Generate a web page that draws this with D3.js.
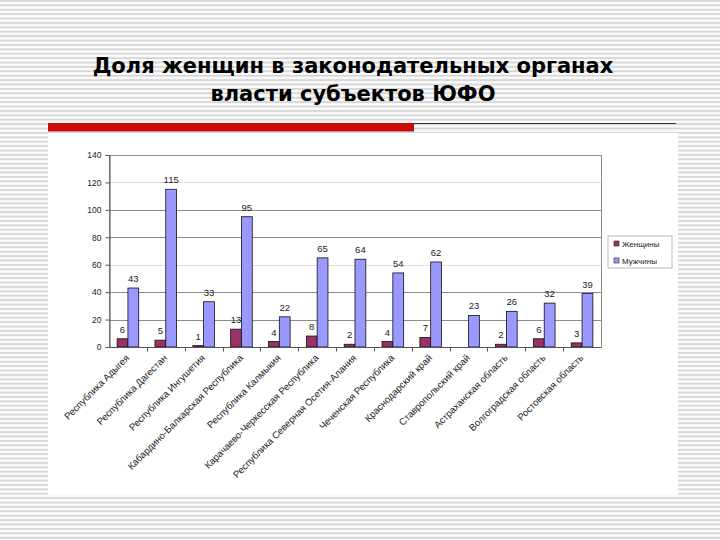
<!DOCTYPE html>
<html>
<head>
<meta charset="utf-8">
<script src="https://cdn.jsdelivr.net/npm/d3@7"></script>
<style>
  body { margin: 0; background: #fff; }
  svg { display: block; }
</style>
</head>
<body>
<script>
// data
const regions = ["Республика Адыгея", "Республика Дагестан", "Республика Ингушетия",
  "Кабардино-Балкарская Республика", "Республика Калмыкия", "Карачаево-Черкесская Республика",
  "Республика Северная Осетия-Алания", "Чеченская Республика", "Краснодарский край",
  "Ставропольский край", "Астраханская область", "Волгоградская область", "Ростовская область"]
const women = [6, 5, 1, 13, 4, 8, 2, 4, 7, null, 2, 6, 3]
const men = [43, 115, 33, 95, 22, 65, 64, 54, 62, 23, 26, 32, 39]
const seriesNames = ["Женщины", "Мужчины"]
const yTicks = [0, 20, 40, 60, 80, 100, 120, 140]

const W = 720, H = 540
const svg = d3.select("body").append("svg").attr("width", W).attr("height", H)

// striped slide background
let defs = svg.append("defs")
let pat = defs.append("pattern").attr("id", "stripes")
  .attr("patternUnits", "userSpaceOnUse").attr("width", 8).attr("height", 4.4)
pat.append("rect").attr("width", 8).attr("height", 4.4).attr("fill", "#fafafa")
pat.append("rect").attr("y", 0).attr("width", 8).attr("height", 1.8).attr("fill", "#d6d6d6")
svg.append("rect").attr("width", W).attr("height", H).attr("fill", "url(#stripes)")

// title
let title = svg.append("text")
  .attr("x", 353).attr("text-anchor", "middle")
  .style("font-family", "DejaVu Sans, Verdana, sans-serif")
  .style("font-weight", "bold").style("font-size", "21px").attr("fill", "#000")
title.append("tspan").attr("x", 353).attr("y", 73).text("Доля женщин в законодательных органах")
title.append("tspan").attr("x", 353).attr("y", 101).text("власти субъектов ЮФО")

// red rule + thin line
svg.append("rect").attr("x", 48).attr("y", 123).attr("width", 366).attr("height", 8.5).attr("fill", "#cc0a0a")
svg.append("line").attr("x1", 414).attr("x2", 676).attr("y1", 123.5).attr("y2", 123.5)
  .attr("stroke", "#333").attr("stroke-width", 1)

// chart picture area
svg.append("rect").attr("x", 48).attr("y", 133).attr("width", 630).attr("height", 362).attr("fill", "#fff")

const plot = { left: 109, right: 601, top: 155, bottom: 347 }

const x0 = d3.scaleBand().domain(regions).range([plot.left, plot.right]).paddingInner(0).paddingOuter(0)
const x1 = d3.scaleBand().domain(seriesNames).range([0, x0.bandwidth()]).paddingInner(0).paddingOuter(0.75)
const y = d3.scaleLinear().domain([0, 140]).range([plot.bottom, plot.top])
const colors = { "Женщины": "#993366", "Мужчины": "#9999ff" }

const chart = svg.append("g").style("font-family", "Liberation Sans, Arial, sans-serif")

// gridlines
chart.append("g").selectAll("line").data(yTicks.filter(d => d > 0)).join("line")
  .attr("x1", plot.left).attr("x2", plot.right)
  .attr("y1", d => Math.round(y(d)) + 0.5).attr("y2", d => Math.round(y(d)) + 0.5)
  .attr("stroke", d => (d == 60 || d == 120) ? "#dedede" : "#8c8c8c").attr("stroke-width", 1)

// frame
chart.append("rect").attr("x", plot.left + 0.5).attr("y", plot.top + 0.5)
  .attr("width", plot.right - plot.left).attr("height", plot.bottom - plot.top)
  .attr("fill", "none").attr("stroke", "#8c8c8c")

// y axis
let yAxis = chart.append("g").attr("transform", `translate(${plot.left + 0.5},0)`)
  .call(d3.axisLeft(y).tickValues(yTicks).tickSize(4).tickPadding(4))
yAxis.select(".domain").attr("stroke", "#555")
yAxis.selectAll(".tick line").attr("stroke", "#555")
yAxis.selectAll("text").style("font-size", "8.5px").attr("fill", "#222")

// bars
let rows = regions.map((r, i) => ({ region: r, vals: [{ s: seriesNames[0], v: women[i] }, { s: seriesNames[1], v: men[i] }] }))
let groups = chart.append("g").selectAll("g").data(rows).join("g")
  .attr("transform", d => `translate(${x0(d.region)},0)`)

groups.selectAll("rect").data(d => d.vals.filter(e => e.v != null)).join("rect")
  .attr("x", d => x1(d.s)).attr("width", x1.bandwidth())
  .attr("y", d => y(d.v)).attr("height", d => y(0) - y(d.v))
  .attr("fill", d => colors[d.s]).attr("stroke", "#111").attr("stroke-width", 0.8)

groups.selectAll("text").data(d => d.vals.filter(e => e.v != null)).join("text")
  .attr("x", d => x1(d.s) + x1.bandwidth() / 2).attr("y", d => y(d.v) - 6)
  .attr("text-anchor", "middle").style("font-size", "9.5px").attr("fill", "#222")
  .text(d => d.v)

// x axis
let xAxis = chart.append("g").attr("transform", `translate(0,${plot.bottom + 0.5})`)
xAxis.append("line").attr("x1", plot.left).attr("x2", plot.right).attr("stroke", "#555")
xAxis.selectAll("line.tk").data(regions.slice(1)).join("line").attr("class", "tk")
  .attr("x1", d => Math.round(x0(d)) + 0.5).attr("x2", d => Math.round(x0(d)) + 0.5)
  .attr("y1", 0).attr("y2", 4).attr("stroke", "#555")
xAxis.selectAll("text").data(regions).join("text")
  .attr("transform", d => `translate(${x0(d) + x0.bandwidth() / 2 + 2},${11}) rotate(-45)`)
  .attr("text-anchor", "end").style("font-size", "9.6px").attr("fill", "#222")
  .text(d => d)

// legend
let lg = chart.append("g").attr("transform", "translate(608,236)")
lg.append("rect").attr("width", 64).attr("height", 32).attr("fill", "#fff").attr("stroke", "#aaa").attr("stroke-width", 0.8)
seriesNames.forEach((s, i) => {
  lg.append("rect").attr("x", 6).attr("y", 5 + i * 17).attr("width", 5).attr("height", 5)
    .attr("fill", colors[s]).attr("stroke", "#222").attr("stroke-width", 0.6)
  lg.append("text").attr("x", 14).attr("y", 10.5 + i * 17).style("font-size", "8px").attr("fill", "#222").text(s)
})
</script>
</body>
</html>
